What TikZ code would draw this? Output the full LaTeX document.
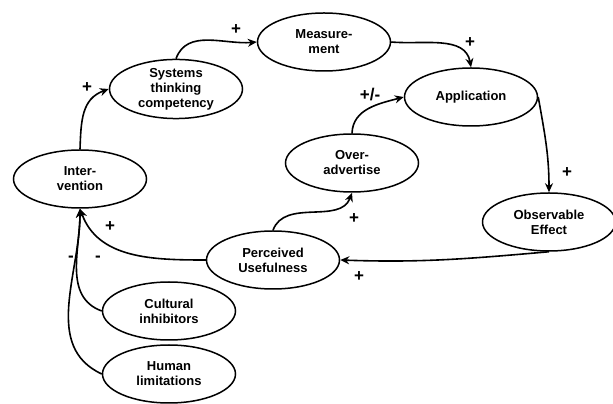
\documentclass[tikz,border=0pt]{standalone}
\usepackage{fontspec}
\setmainfont{Liberation Sans}
\usetikzlibrary{shapes.geometric,arrows.meta}

\begin{document}
\begin{tikzpicture}[x=1pt,y=1pt,
        faktor/.style={draw,ellipse,line width=1.5pt,minimum width=133pt,minimum height=58pt,
            inner sep=0pt,align=center,font=\fontsize{13}{15}\selectfont\bfseries},
        wirkung/.style={line width=1.6pt,-{Stealth[length=9pt,width=8pt]}},
        vorzeichen/.style={font=\fontsize{17}{17}\selectfont\bfseries,inner sep=0pt}]
    \useasboundingbox (0,0) rectangle (613,404);

    % Faktoren (Ellipsen)
    \foreach \n/\x/\y/\t in {
            int/80/225/{Inter-\\vention},
            sys/176/315/{Systems\\thinking\\competency},
            mes/324/362/{Measure-\\ment},
            app/471/307/{Application},
            ove/352/241/{Over-\\advertise},
            obs/549/182/{Observable\\Effect},
            per/273/144/{Perceived\\Usefulness},
            cul/169/93/{Cultural\\inhibitors},
            hum/169/30/{Human\\limitations}} {
        \node[faktor] (\n) at (\x,\y) {\t};
    }

    % Wirkungen
    \draw[wirkung] (int.north) to[out=88,in=200,looseness=1.1] (sys.west);
    \draw[wirkung] (sys.north) to[out=70,in=185] (mes.west);
    \draw[wirkung] (mes.east) to[out=-5,in=100] (app.north);
    \draw[wirkung] (app.east) to[out=-80,in=90] (obs.north);
    \draw[wirkung] (obs.south) to[out=185,in=-2] (per.east);
    \draw[wirkung] (per.north) to[out=70,in=-110] (ove.south);
    \draw[wirkung] (ove.north) to[out=88,in=195] (app.west);
    \draw[wirkung] (per.west) to[out=180,in=-70] (int.south);
    \draw[wirkung] (cul.west) to[out=160,in=-90] (int.south);
    \draw[wirkung] (hum.west) to[out=155,in=-90] (int.south);

    % Vorzeichen
    \foreach \x/\y/\t [count=\i] in {
            87/316/+, 236/374/+, 470/361/+, 370/309/{+/-}, 567/231/+,
            354/185/+, 359/127/+, 110/177/+, 71/145/-, 98/145/-} {
        \node[vorzeichen] (v\i) at (\x,\y) {\t};
    }
\end{tikzpicture}
\end{document}
